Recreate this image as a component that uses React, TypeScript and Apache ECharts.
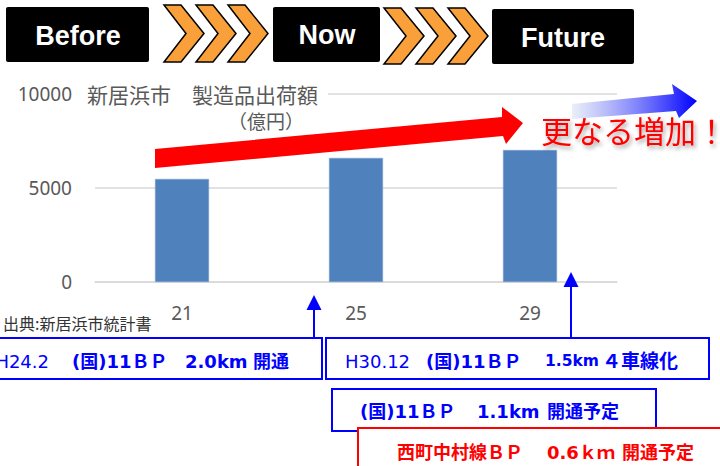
import React, { useEffect, useRef } from 'react';
import * as echarts from 'echarts';

const categories = ['21', '25', '29'];
const values = [5480, 6600, 7020];
const yMin = 0;
const yMax = 10000;
const yInterval = 5000;

const stageLabels = ['Before', 'Now', 'Future'];
const chartTitle = '新居浜市　製造品出荷額';
const chartUnit = '（億円）';
const sourceNote = '出典:新居浜市統計書';
const growthText = '更なる増加！';

// [text, weight, size] segments for each box
type Seg = [string, string, number];
const box1Segs: Seg[] = [['H24.2', 'normal', 18], ['(国)11ＢＰ', 'bold', 18], ['2.0km', 'bold', 18], ['開通', 'bold', 18]];
const box2Segs: Seg[] = [['H30.12', 'normal', 18], ['(国)11ＢＰ', 'bold', 18], ['1.5km', 'bold', 15.5], ['４車線化', 'bold', 19]];
const box3Segs: Seg[] = [['(国)11ＢＰ', 'bold', 18], ['1.1km', 'bold', 18], ['開通予定', 'bold', 18]];
const box4Segs: Seg[] = [['西町中村線ＢＰ', 'bold', 18], ['0.6ｋｍ', 'bold', 18], ['開通予定', 'bold', 18]];

const CJK = '"Noto Sans CJK JP", "Noto Sans", sans-serif';
const MIX = '"DejaVu Sans", "Noto Sans CJK JP", sans-serif';

function chevron(x0: number, y0: number, h: number) {
  return [
    [x0, y0], [x0 + 17, y0], [x0 + 40, y0 + h / 2], [x0 + 17, y0 + h], [x0, y0 + h], [x0 + 22, y0 + h / 2],
  ];
}

function segTexts(segs: Seg[], xs: number[], y: number, color: string, z: number, endAlignFirst?: boolean) {
  return segs.map((s, i) => ({
    type: 'text',
    x: xs[i],
    y,
    z,
    style: {
      text: s[0],
      fill: color,
      font: `${s[1]} ${s[2]}px ${MIX}`,
      textAlign: endAlignFirst && i === 0 ? 'right' : 'left',
      align: endAlignFirst && i === 0 ? 'right' : 'left',
      textVerticalAlign: 'middle',
      verticalAlign: 'middle',
    },
  }));
}

export default function App() {
  const ref = useRef<HTMLDivElement>(null);
  useEffect(() => {
    if (!ref.current) return;
    const chart = echarts.init(ref.current, undefined, { renderer: 'svg' });

    const stageBoxes = [
      { x: 6, y: 7, w: 143, h: 55, tx: 78, ty: 36 },
      { x: 273, y: 7, w: 107, h: 55, tx: 327, ty: 35 },
      { x: 492, y: 9, w: 142, h: 55, tx: 563, ty: 38 },
    ];
    const graphics: any[] = [];
    stageBoxes.forEach((b, i) => {
      graphics.push({ type: 'rect', z: 100, shape: { x: b.x, y: b.y, width: b.w, height: b.h, r: 2 }, style: { fill: '#000' } });
      graphics.push({
        type: 'text', z: 101, x: b.tx, y: b.ty,
        style: { text: stageLabels[i], fill: '#fff', font: 'bold 27px "Liberation Sans", Arial, sans-serif', textAlign: 'center', align: 'center', textVerticalAlign: 'middle', verticalAlign: 'middle' },
      });
    });
    [[164, 5, 57], [384, 8, 56]].forEach(([gx, gy, h]) => {
      for (let k = 0; k < 3; k++) {
        graphics.push({
          type: 'polygon', z: 100,
          shape: { points: chevron(gx + k * 32, gy, h) },
          style: { fill: '#F9A03A', stroke: '#000', lineWidth: 1.5 },
        });
      }
    });

    // title
    graphics.push({ type: 'rect', z: 100, shape: { x: 82, y: 83, width: 246, height: 24 }, style: { fill: '#fff' } });
    graphics.push({ type: 'text', z: 101, x: 87, y: 94, style: { text: chartTitle, fill: '#595959', font: `21px ${CJK}`, textAlign: 'left', align: 'left', textVerticalAlign: 'middle', verticalAlign: 'middle' } });
    graphics.push({ type: 'text', z: 101, x: 266, y: 120, style: { text: chartUnit, fill: '#595959', font: `19px ${CJK}`, textAlign: 'center', align: 'center', textVerticalAlign: 'middle', verticalAlign: 'middle' } });

    // red arrow
    graphics.push({
      type: 'polygon', z: 100,
      shape: { points: [[155, 149], [502, 117], [502, 107], [523, 123], [506, 144], [503, 136], [155, 168]] },
      style: { fill: '#FF0000' },
    });
    // blue gradient arrow
    graphics.push({
      type: 'polygon', z: 100,
      shape: { points: [[572, 104], [674, 94], [672, 84], [697, 101], [679, 118], [676, 111], [572, 119]] },
      style: {
        fill: new echarts.graphic.LinearGradient(0, 0, 1, 0, [
          { offset: 0, color: 'rgba(225,232,245,0.7)' },
          { offset: 1, color: '#0000FF' },
        ]),
      },
    });
    // growth text
    graphics.push({
      type: 'text', z: 102, x: 541, y: 129,
      style: {
        text: growthText, fill: '#FF0000', font: `31px ${CJK}`,
        textAlign: 'left', align: 'left', textVerticalAlign: 'middle', verticalAlign: 'middle',
        textShadowColor: 'rgba(0,0,0,0.35)', textShadowBlur: 4, textShadowOffsetX: 2, textShadowOffsetY: 3,
      },
    });

    // source note
    graphics.push({ type: 'text', z: 101, x: 3, y: 323, style: { text: sourceNote, fill: '#333', font: `16px ${CJK}`, textAlign: 'left', align: 'left', textVerticalAlign: 'middle', verticalAlign: 'middle' } });

    // up arrows
    [[314, 295, 338], [571, 272, 338]].forEach(([ax, tipY, endY]) => {
      graphics.push({ type: 'line', z: 100, shape: { x1: ax, y1: tipY + 12, x2: ax, y2: endY }, style: { stroke: '#0000FF', lineWidth: 2 } });
      graphics.push({ type: 'polygon', z: 100, shape: { points: [[ax, tipY], [ax - 7.5, tipY + 15], [ax + 7.5, tipY + 15]] }, style: { fill: '#0000FF' } });
    });

    // boxes
    const boxes = [
      { x: -5, y: 338, w: 327, h: 41, c: '#0000FF' },
      { x: 326, y: 338, w: 383, h: 41, c: '#0000FF' },
      { x: 332, y: 389, w: 324, h: 42, c: '#0000FF' },
      { x: 358, y: 428, w: 372, h: 50, c: '#FF0000' },
    ];
    boxes.forEach((b, i) => {
      graphics.push({ type: 'rect', z: 110 + i * 2, shape: { x: b.x, y: b.y, width: b.w, height: b.h }, style: { fill: '#fff', stroke: b.c, lineWidth: 2 } });
    });
    graphics.push(...segTexts(box1Segs, [49, 72, 185, 253], 361, '#0000FF', 111, true));
    graphics.push(...segTexts(box2Segs, [345, 426, 545, 602], 361, '#0000FF', 113));
    graphics.push(...segTexts(box3Segs, [360, 477, 547], 411, '#0000FF', 115));
    graphics.push(...segTexts(box4Segs, [397, 547, 622], 452, '#FF0000', 117));

    chart.setOption({
      animation: false,
      grid: { left: 95, right: 103, top: 94, bottom: 184 },
      xAxis: {
        type: 'category',
        data: categories,
        axisLine: { lineStyle: { color: '#D9D9D9', width: 1.5 } },
        axisTick: { show: false },
        axisLabel: { color: '#595959', fontSize: 19, fontFamily: '"Noto Sans", sans-serif', margin: 21 },
      },
      yAxis: {
        type: 'value',
        min: yMin,
        max: yMax,
        interval: yInterval,
        axisLine: { show: false },
        axisTick: { show: false },
        axisLabel: { color: '#595959', fontSize: 19, fontFamily: '"Noto Sans", sans-serif', margin: 23, formatter: (v: number) => String(v) },
        splitLine: { lineStyle: { color: '#D9D9D9', width: 1.5 } },
      },
      series: [
        {
          type: 'bar',
          data: values,
          barWidth: 54,
          itemStyle: { color: '#4F81BD', borderColor: '#7FA3D3', borderWidth: 0.5 },
        },
      ],
      graphic: { elements: graphics },
    });
    return () => chart.dispose();
  }, []);
  return <div ref={ref} style={{ width: 720, height: 466, position: 'absolute', left: 0, top: 0 }} />;
}
